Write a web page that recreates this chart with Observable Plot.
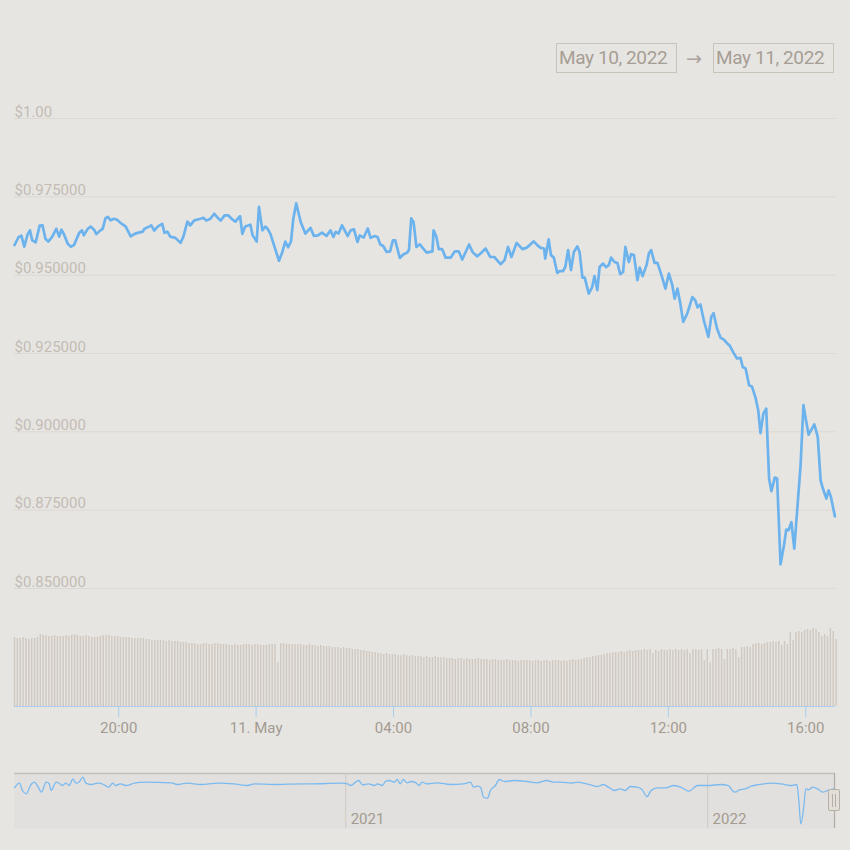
<!DOCTYPE html>
<html>
<head>
<meta charset="utf-8">
<script src="https://cdn.jsdelivr.net/npm/d3@7"></script>
<script src="https://cdn.jsdelivr.net/npm/@observablehq/plot@0.6"></script>
<style>
  html, body { margin: 0; padding: 0; background: #e7e5e2; }
  #wrap { position: relative; width: 850px; height: 850px; overflow: hidden; font-family: Roboto, "Noto Sans", sans-serif; }
  .layer { position: absolute; left: 0; }
  .datebox { position: absolute; top: 43px; height: 30px; box-sizing: border-box; border: 1.5px solid #cac3ba;
             font-size: 19px; line-height: 27px; color: #a69e94; padding-left: 2px; letter-spacing: -0.4px; white-space: nowrap; }
  #arrow { position: absolute; left: 686px; top: 45px; font-family: "DejaVu Sans", sans-serif; font-size: 19px; line-height: 26px; color: #aaa299; }
  #handle { position: absolute; left: 828px; top: 789px; width: 12px; height: 22px; box-sizing: border-box;
            background: #e2ded8; border: 1px solid #b8b0a6; border-radius: 2px; }
  #handle i { position: absolute; top: 4px; width: 1px; height: 13px; background: #b8b0a6; }
</style>
</head>
<body>
<div id="wrap"></div>
<script>
// ---------- data ----------
const dateRange = ["May 10, 2022", "May 11, 2022"];

// price: minutes after 16:58 UTC, 10 May 2022
const priceMinutes = [
  0,7,12,17,23,27,31,37,44,49,
  54,59,66,73,78,82,86,93,98,104,
  113,118,121,128,133,139,143,150,154,159,
  163,168,174,179,185,194,203,209,215,224,
  227,235,239,244,250,258,262,267,272,281,
  290,295,302,307,314,325,330,335,342,349,
  355,360,367,373,381,386,390,394,398,403,
  412,416,423,427,433,438,442,447,456,462,
  468,473,478,483,487,492,500,508,517,523,
  530,537,545,552,557,561,566,572,582,587,
  593,599,603,610,617,622,629,634,639,644,
  650,656,661,665,673,679,686,689,693,697,
  702,708,714,720,730,732,737,741,747,753,
  762,769,776,782,794,800,808,814,823,831,
  838,849,856,862,868,877,887,894,900,907,
  913,919,925,927,933,937,942,948,952,958,
  962,967,972,977,983,987,992,996,1003,1009,
  1013,1018,1022,1028,1033,1038,1042,1048,1053,1058,
  1063,1067,1073,1077,1082,1088,1092,1097,1104,1108,
  1112,1118,1123,1130,1137,1143,1149,1153,1158,1163,
  1168,1175,1184,1189,1193,1198,1204,1212,1217,1221,
  1227,1233,1239,1245,1249,1256,1262,1268,1272,1277,
  1283,1288,1294,1299,1303,1308,1313,1318,1322,1328,
  1332,1338,1344,1348,1352,1357,1362,1373,1378,1382,
  1387,1397,1403,1408,1412,1418,1422,1426,1433
];
const priceValues = [
  0.9596,0.9621,0.9626,0.9591,0.9631,0.9643,0.9611,0.9605,0.9658,0.9659,
  0.9616,0.9607,0.9623,0.9648,0.9623,0.9645,0.9632,0.9600,0.9591,0.9596,
  0.9635,0.9643,0.9627,0.9648,0.9655,0.9645,0.9631,0.9643,0.9648,0.9682,
  0.9686,0.9675,0.9680,0.9677,0.9667,0.9656,0.9624,0.9631,0.9635,0.9639,
  0.9648,0.9655,0.9659,0.9642,0.9655,0.9664,0.9635,0.9639,0.9623,0.9619,
  0.9603,0.9623,0.9671,0.9659,0.9675,0.9680,0.9683,0.9674,0.9680,0.9696,
  0.9683,0.9674,0.9691,0.9691,0.9677,0.9671,0.9680,0.9688,0.9632,0.9655,
  0.9661,0.9627,0.9607,0.9718,0.9643,0.9655,0.9648,0.9632,0.9580,0.9546,
  0.9575,0.9607,0.9589,0.9608,0.9680,0.9729,0.9669,0.9633,0.9651,0.9625,
  0.9627,0.9636,0.9625,0.9643,0.9622,0.9638,0.9633,0.9659,0.9625,0.9643,
  0.9646,0.9606,0.9627,0.9620,0.9649,0.9619,0.9625,0.9622,0.9598,0.9593,
  0.9574,0.9576,0.9611,0.9611,0.9555,0.9566,0.9572,0.9580,0.9681,0.9670,
  0.9590,0.9598,0.9585,0.9572,0.9576,0.9643,0.9622,0.9583,0.9583,0.9556,
  0.9556,0.9576,0.9576,0.9550,0.9598,0.9574,0.9560,0.9569,0.9585,0.9558,
  0.9558,0.9535,0.9548,0.9590,0.9558,0.9603,0.9583,0.9587,0.9596,0.9608,
  0.9596,0.9587,0.9585,0.9553,0.9614,0.9564,0.9556,0.9507,0.9513,0.9513,
  0.9526,0.9580,0.9516,0.9574,0.9592,0.9574,0.9492,0.9492,0.9441,0.9462,
  0.9497,0.9452,0.9526,0.9537,0.9526,0.9532,0.9556,0.9542,0.9539,0.9503,
  0.9510,0.9590,0.9542,0.9567,0.9564,0.9484,0.9524,0.9497,0.9532,0.9569,
  0.9580,0.9539,0.9539,0.9500,0.9457,0.9505,0.9468,0.9425,0.9457,0.9409,
  0.9351,0.9377,0.9430,0.9420,0.9397,0.9407,0.9356,0.9303,0.9367,0.9379,
  0.9330,0.9301,0.9294,0.9282,0.9276,0.9252,0.9234,0.9236,0.9207,0.9202,
  0.9149,0.9145,0.9111,0.9069,0.8996,0.9058,0.9074,0.8851,0.8811,0.8854,
  0.8851,0.8577,0.8638,0.8688,0.8686,0.8712,0.8627,0.8893,0.9085,0.9042,
  0.8991,0.9024,0.8984,0.8845,0.8819,0.8787,0.8813,0.8792,0.8730
];

// volume: one bar per 5 minutes from 16:58 UTC (relative units)
const volumeValues = [
  69,68,68,69,68,67,68,68,69,72, 71,71,70,70,71,70,70,70,71,70,
  71,72,71,70,70,71,70,69,69,69, 70,71,71,71,70,70,70,69,69,69,
  69,68,68,68,68,68,67,67,66,66, 66,66,66,65,66,65,65,65,64,64,
  64,63,63,63,62,62,63,63,62,62, 63,63,62,62,62,61,61,62,61,61,
  62,62,62,61,62,62,61,61,61,62, 62,62,44,63,63,62,62,62,62,62,
  62,61,61,62,61,61,60,61,60,60, 60,59,59,59,58,59,58,58,57,57,
  57,56,56,55,55,54,54,53,53,52, 53,52,52,52,51,51,52,51,50,51,
  50,50,50,49,50,49,49,50,49,49, 49,48,48,48,47,48,48,47,48,47,
  47,47,48,47,47,47,46,47,47,46, 46,46,47,46,46,46,45,46,46,46,
  46,45,46,46,45,46,46,45,46,46, 46,45,46,45,46,47,46,47,47,48,
  49,49,50,50,51,51,52,53,53,54, 54,54,55,54,55,56,55,56,56,56,
  57,56,57,53,56,55,57,56,56,57, 56,57,56,57,56,57,53,57,57,56,
  57,46,57,44,57,57,58,57,47,57, 57,58,57,49,59,59,60,59,62,63,
  63,62,63,64,64,65,64,65,61,65, 62,74,66,74,75,74,76,77,76,78,
  77,74,70,72,70,78,75,67
];

const yTicks = [1.0, 0.975, 0.95, 0.925, 0.9, 0.875, 0.85];
const yTickLabels = ["$1.00", "$0.975000", "$0.950000", "$0.925000", "$0.900000", "$0.875000", "$0.850000"];

// x ticks: hours after 00:00 UTC 10 May 2022
const xTickHours = [20, 24, 28, 32, 36, 40];
const xTickLabels = ["20:00", "11. May", "04:00", "08:00", "12:00", "16:00"];

// navigator: days after 2021-01-01 and price
const navDays = [
  -334,-329,-326,-322,-318,-314,-310,-307,-302,-299,
  -297,-292,-289,-286,-282,-279,-275,-272,-269,-265,
  -262,-257,-250,-244,-239,-235,-232,-227,-222,-213,
  -203,-176,-170,-160,-146,-129,-113,-99,-92,-72,
  -45,-35,-5,2,5,13,17,23,29,32,
  37,40,44,49,52,55,58,62,66,71,
  74,77,82,92,106,119,126,129,133,136,
  139,143,146,151,155,160,170,183,193,203,
  210,217,227,234,240,247,254,260,265,271,
  277,282,287,294,299,304,308,314,323,331,
  338,346,355,365,378,386,390,393,397,403,
  408,415,422,428,439,449,455,457,459,462,
  464,467,471,476,481,486,492
];
const navValues = [
  0.9806,0.9965,0.9713,0.9599,0.9885,0.9999,0.9827,0.9654,0.9999,0.9944,
  0.9713,0.9999,0.9965,0.9885,0.9965,0.9885,1.0117,0.9965,0.9999,1.0172,
  0.9965,0.9920,0.9965,0.9920,0.9827,0.9965,0.9885,0.9944,0.9885,0.9965,
  0.9999,0.9978,0.9920,0.9965,0.9920,0.9965,0.9944,0.9885,0.9944,0.9920,
  0.9944,0.9944,0.9965,0.9944,0.9885,1.0058,0.9909,0.9944,0.9885,0.9944,
  0.9885,1.0023,1.0058,0.9999,1.0092,0.9944,1.0092,0.9978,1.0023,0.9978,
  0.9885,0.9999,0.9944,0.9978,0.9920,0.9944,0.9999,0.9827,0.9861,0.9827,
  0.9481,0.9447,0.9713,0.9885,1.0092,1.0023,1.0058,1.0023,0.9978,1.0058,
  0.9999,0.9999,0.9965,0.9999,0.9965,0.9909,0.9851,0.9920,0.9827,0.9713,
  0.9771,0.9713,0.9851,0.9827,0.9737,0.9505,0.9713,0.9806,0.9806,0.9885,
  0.9827,0.9688,0.9885,0.9885,0.9920,0.9885,0.9713,0.9654,0.9737,0.9771,
  0.9851,0.9909,0.9944,0.9965,0.9944,0.9885,0.9920,0.9367,0.8562,0.9136,
  0.9771,0.9737,0.9827,0.9771,0.9654,0.9713,0.9771
];
const navYears = [2021, 2022];

// ---------- build ----------
const wrap = document.getElementById("wrap");
const MIN = 60000, DAY = 864e5;
const t0 = Date.UTC(2022, 4, 10, 16, 58);
const dayStart = Date.UTC(2022, 4, 10);
const xDomain = [new Date(t0), new Date(t0 + 1434 * MIN)];
const baseStyle = { background: "transparent", fontFamily: "Roboto, 'Noto Sans', sans-serif", overflow: "visible" };

const priceData = priceMinutes.map((m, i) => ({ t: new Date(t0 + m * MIN), v: priceValues[i] }));
const volData = volumeValues.map((v, i) => ({ t: new Date(t0 + i * 5 * MIN), v }));
const xTicks = xTickHours.map(h => new Date(dayStart + h * 3600000));

function place(node, top) {
  node.classList.add("layer");
  node.style.top = top + "px";
  wrap.appendChild(node);
}

// date range boxes
const b1 = document.createElement("div");
b1.className = "datebox"; b1.style.left = "556px"; b1.style.width = "121px"; b1.textContent = dateRange[0];
const arr = document.createElement("div"); arr.id = "arrow"; arr.textContent = "\u2192";
const b2 = document.createElement("div");
b2.className = "datebox"; b2.style.left = "713px"; b2.style.width = "121px"; b2.textContent = dateRange[1];
wrap.append(b1, arr, b2);

// price chart
const pricePlot = Plot.plot({
  width: 850, height: 600, marginLeft: 14, marginRight: 15, marginTop: 118, marginBottom: 12,
  style: baseStyle,
  x: { type: "utc", domain: xDomain, axis: null },
  y: { domain: [0.85, 1.0], axis: null },
  marks: [
    Plot.ruleY(yTicks, { stroke: "#dcd9d5", strokeWidth: 1 }),
    Plot.text(yTicks, { y: d => d, frameAnchor: "left", text: (d, i) => yTickLabels[i], textAnchor: "start",
      lineAnchor: "bottom", dy: -2, fill: "#c3bcb4", fontSize: 15 }),
    Plot.line(priceData, { x: "t", y: "v", stroke: "#6cb3ee", strokeWidth: 2.7, strokeLinejoin: "round", strokeLinecap: "round" })
  ]
});
place(pricePlot, 0);

// volume + time axis
const volPlot = Plot.plot({
  width: 850, height: 150, marginLeft: 14, marginRight: 15, marginTop: 6, marginBottom: 44,
  style: baseStyle,
  x: { type: "utc", domain: xDomain, axis: null, label: null },
  y: { domain: [0, 100], axis: null },
  marks: [
    Plot.ruleX(volData, { x: "t", y1: 0, y2: "v", stroke: "#d0c9c1", strokeWidth: 1.5 }),
    Plot.ruleY([0], { stroke: "#a9cdef", strokeWidth: 1.2 }),
    Plot.axisX({ ticks: xTicks, tickFormat: () => "", tickSize: 11, color: "#a9cdef", label: null }),
    Plot.axisX({ ticks: xTicks, tickFormat: (d, i) => xTickLabels[i], tickSize: 0, tickPadding: 16, color: "#a39b91", fontSize: 15, label: null })
  ]
});
place(volPlot, 600);

// navigator
const navBase = Date.UTC(2021, 0, 1);
const navData = navDays.map((d, i) => ({ t: new Date(navBase + d * DAY), v: navValues[i] }));
const navDomain = [new Date(navBase - 334 * DAY), new Date(navBase + 494 * DAY)];
const yearDates = navYears.map(y => new Date(Date.UTC(y, 0, 1)));
const navPlot = Plot.plot({
  width: 850, height: 80, marginLeft: 14, marginRight: 15, marginTop: 13, marginBottom: 12,
  style: baseStyle,
  x: { type: "utc", domain: navDomain, axis: null },
  y: { domain: [0.84, 1.03], axis: null },
  marks: [
    Plot.frame({ fill: "#e1e0de", stroke: null }),
    Plot.ruleX(yearDates, { stroke: "#d2cdc6", strokeWidth: 1.2 }),
    Plot.text(yearDates, { x: d => d, text: (d, i) => String(navYears[i]), frameAnchor: "bottom", textAnchor: "start",
      lineAnchor: "bottom", dx: 5, dy: -5, fill: "#a39b91", fontSize: 15 }),
    Plot.line(navData, { x: "t", y: "v", stroke: "#7bbaf0", strokeWidth: 1.3, curve: "monotone-x" }),
    Plot.ruleY([1.03], { stroke: "#c6c0b9", strokeWidth: 1.5 }),
    Plot.ruleX([navDomain[1]], { stroke: "#b5ada3", strokeWidth: 1.2, dx: -1 })
  ]
});
place(navPlot, 760);

const h = document.createElement("div");
h.id = "handle";
h.innerHTML = '<i style="left:3px"></i><i style="left:6px"></i>';
wrap.appendChild(h);
</script>
</body>
</html>
